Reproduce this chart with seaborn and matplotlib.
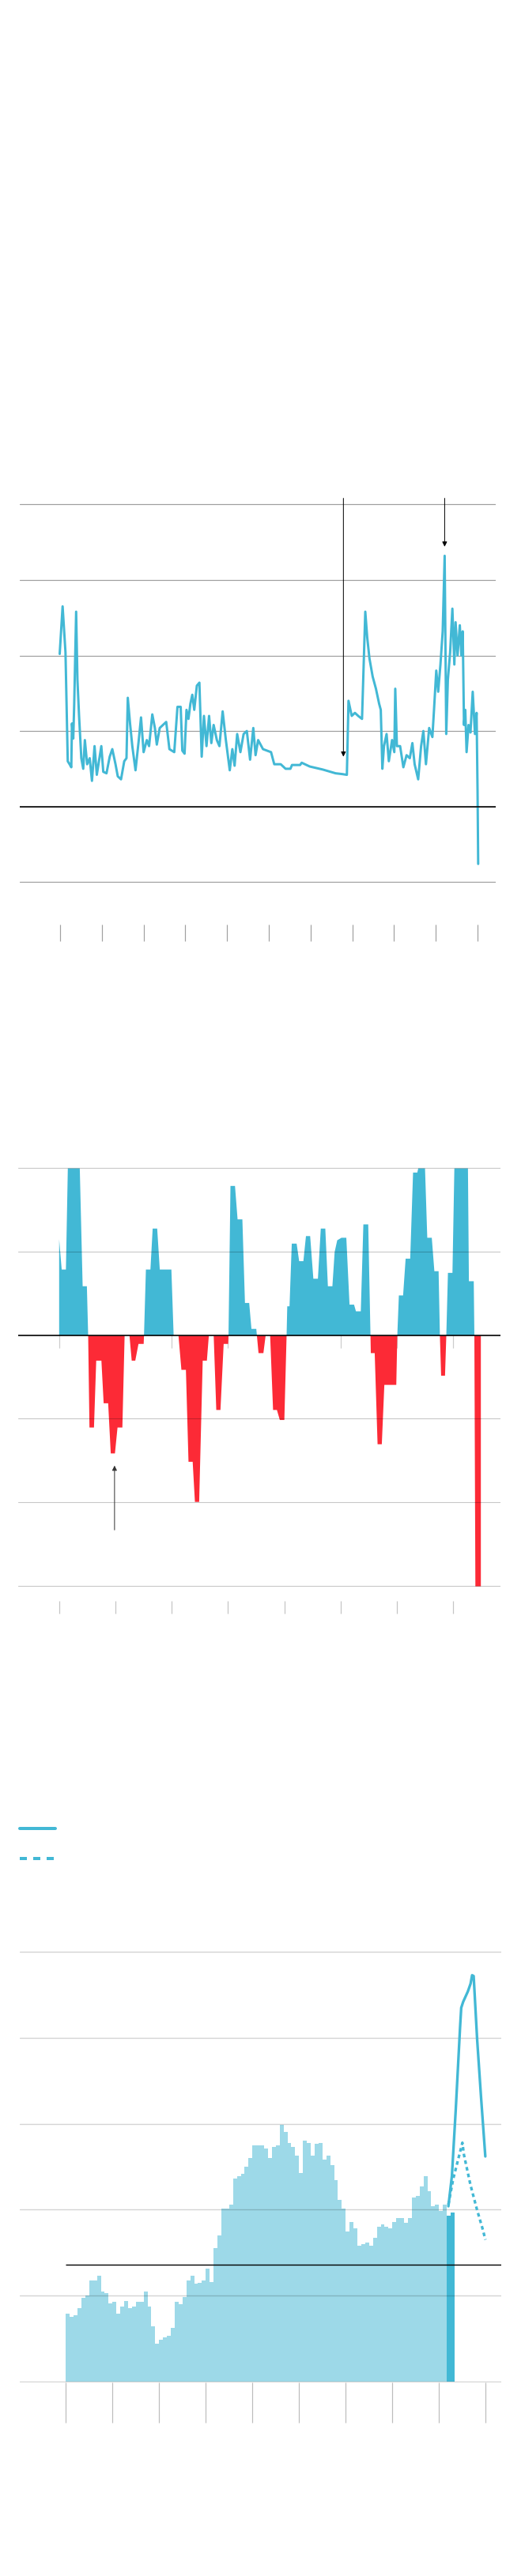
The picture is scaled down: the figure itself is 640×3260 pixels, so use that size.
import numpy as np
import matplotlib
matplotlib.use("Agg")
import matplotlib.pyplot as plt
from matplotlib.lines import Line2D
import seaborn as sns

# ---------------- data ----------------
# panel 1: line series (x in years from first tick, value in grid units)
x1 = [-0.008, 0.062, 0.131, 0.185, 0.240, 0.270, 0.286, 0.317, 0.340, 0.386,
      0.417, 0.456, 0.510, 0.556, 0.595, 0.649, 0.711, 0.765, 0.827, 0.881,
      0.989, 1.036, 1.113, 1.190, 1.252, 1.329, 1.383, 1.461, 1.538, 1.592,
      1.623, 1.677, 1.731, 1.808, 1.886, 1.940, 2.002, 2.079, 2.133, 2.210,
      2.272, 2.318, 2.388, 2.465, 2.543, 2.620, 2.736, 2.813, 2.890, 2.929,
      2.983, 3.029, 3.076, 3.122, 3.168, 3.215, 3.277, 3.338, 3.393, 3.447,
      3.508, 3.570, 3.624, 3.679, 3.756, 3.818, 3.895, 3.972, 4.065, 4.127,
      4.181, 4.243, 4.320, 4.397, 4.474, 4.552, 4.629, 4.683, 4.745, 4.861,
      5.054, 5.131, 5.286, 5.402, 5.518, 5.556, 5.750, 5.788, 5.981, 6.291,
      6.600, 6.754, 6.870, 6.909, 6.986, 7.063, 7.141, 7.233, 7.311, 7.357,
      7.411, 7.488, 7.566, 7.643, 7.682, 7.720, 7.759, 7.821, 7.875, 7.952,
      8.006, 8.029, 8.068, 8.145, 8.223, 8.300, 8.377, 8.439, 8.493, 8.578,
      8.648, 8.702, 8.764, 8.841, 8.918, 8.957, 9.011, 9.057, 9.111, 9.165,
      9.212, 9.250, 9.289, 9.343, 9.397, 9.444, 9.474, 9.521, 9.575, 9.613,
      9.645, 9.675, 9.706, 9.737, 9.784, 9.830, 9.884, 9.938, 9.977, 10.000,
      10.015]
v1 = [2.02, 2.65, 2.04, 0.60, 0.55, 0.52, 1.10, 0.90, 1.36, 2.58,
      1.68, 1.20, 0.64, 0.50, 0.88, 0.56, 0.64, 0.34, 0.80, 0.42,
      0.80, 0.46, 0.44, 0.66, 0.76, 0.56, 0.40, 0.36, 0.60, 0.64,
      1.44, 1.10, 0.80, 0.48, 0.88, 1.18, 0.72, 0.88, 0.80, 1.22,
      1.04, 0.82, 1.04, 1.08, 1.12, 0.76, 0.72, 1.32, 1.32, 0.74,
      0.70, 1.28, 1.16, 1.36, 1.48, 1.28, 1.60, 1.64, 0.66, 1.20,
      0.80, 1.20, 0.84, 1.08, 0.88, 0.80, 1.26, 0.88, 0.48, 0.76,
      0.54, 0.96, 0.72, 0.96, 1.00, 0.62, 1.04, 0.68, 0.88, 0.76,
      0.72, 0.56, 0.56, 0.50, 0.50, 0.55, 0.55, 0.58, 0.53, 0.49,
      0.44, 0.43, 0.42, 1.40, 1.20, 1.24, 1.20, 1.16, 2.58, 2.24,
      1.96, 1.72, 1.56, 1.36, 1.28, 0.50, 0.80, 0.96, 0.60, 0.88,
      0.72, 1.56, 0.80, 0.80, 0.52, 0.68, 0.64, 0.84, 0.56, 0.36,
      0.80, 1.00, 0.56, 1.04, 0.92, 1.28, 1.80, 1.52, 1.88, 2.32,
      3.32, 0.96, 1.68, 2.04, 2.62, 1.88, 2.44, 2.00, 2.40, 2.00,
      2.32, 1.08, 1.28, 0.72, 1.08, 0.98, 1.52, 0.96, 1.24, 0.20,
      -0.76]
arrow1_x = [6.787, 9.212]
arrow1_tip = [0.66, 3.44]

# panel 2: positive / negative area (x in years, value in grid units)
x2 = [-0.005, -0.005, 0.040, 0.115, 0.149, 0.361, 0.412, 0.487, 0.510, 0.533,
      0.613, 0.653, 0.745, 0.785, 0.865, 0.911, 0.985, 1.031, 1.117, 1.157,
      1.243, 1.283, 1.346, 1.403, 1.495, 1.501, 1.535, 1.615, 1.655, 1.735,
      1.781, 1.987, 2.027, 2.113, 2.165, 2.245, 2.291, 2.365, 2.405, 2.480,
      2.543, 2.617, 2.652, 2.738, 2.784, 2.858, 2.915, 2.995, 3.001, 3.036,
      3.116, 3.162, 3.247, 3.293, 3.368, 3.408, 3.494, 3.505, 3.534, 3.620,
      3.660, 3.740, 3.792, 3.860, 3.912, 3.992, 4.032, 4.044, 4.084, 4.124,
      4.210, 4.255, 4.330, 4.376, 4.450, 4.507, 4.588, 4.639, 4.719, 4.765,
      4.845, 4.885, 4.931, 5.006, 5.092, 5.149, 5.229, 5.263, 5.349, 5.395,
      5.481, 5.521, 5.527, 5.596, 5.647, 5.722, 5.767, 5.979, 5.997, 6.025,
      6.100, 6.145, 6.226, 6.277, 6.352, 6.369, 6.489, 6.529, 6.609, 6.655,
      6.730, 6.753, 6.775, 6.844, 6.867, 6.896, 6.976, 7.010, 7.251, 7.268,
      7.354, 7.365, 7.383, 7.480, 7.480]
v2 = [0.00, 1.15, 0.79, 0.79, 2.00, 2.00, 0.59, 0.59, 0.00, -1.10,
      -1.10, -0.30, -0.30, -0.81, -0.81, -1.41, -1.41, -1.10, -1.10, 0.00,
      0.00, -0.30, -0.30, -0.10, -0.10, 0.00, 0.79, 0.79, 1.28, 1.28,
      0.79, 0.79, 0.00, 0.00, -0.41, -0.41, -1.51, -1.51, -1.99, -1.99,
      -0.30, -0.30, 0.00, 0.00, -0.89, -0.89, -0.10, -0.10, 0.00, 1.79,
      1.79, 1.39, 1.39, 0.39, 0.39, 0.08, 0.08, 0.00, -0.21, -0.21,
      0.00, 0.00, -0.89, -0.89, -1.01, -1.01, 0.00, 0.35, 0.35, 1.10,
      1.10, 0.89, 0.89, 1.19, 1.19, 0.68, 0.68, 1.28, 1.28, 0.59,
      0.59, 1.00, 1.14, 1.17, 1.17, 0.37, 0.37, 0.29, 0.29, 1.33,
      1.33, 0.00, -0.21, -0.21, -1.30, -1.30, -0.59, -0.59, 0.00, 0.48,
      0.48, 0.92, 0.92, 1.95, 1.95, 2.00, 2.00, 1.17, 1.17, 0.77,
      0.77, 0.00, -0.48, -0.48, 0.00, 0.75, 0.75, 2.00, 2.00, 0.65,
      0.65, 0.00, -3.00, -3.00, 0.00]
arrow2_x = 0.985
arrow2_tip = -1.56
arrow2_tail = -2.33

# panel 3: monthly bars, latest months, projections (value in grid units)
bars3 = [0.79, 0.75, 0.77, 0.85, 0.97, 1.00, 1.18, 1.18, 1.23, 1.05,
         1.03, 0.91, 0.93, 0.79, 0.87, 0.94, 0.85, 0.87, 0.93, 0.93,
         1.05, 0.87, 0.64, 0.44, 0.49, 0.51, 0.53, 0.62, 0.93, 0.90,
         0.98, 1.18, 1.23, 1.14, 1.15, 1.18, 1.31, 1.16, 1.55, 1.70,
         2.01, 2.01, 2.06, 2.36, 2.39, 2.42, 2.50, 2.60, 2.75, 2.75,
         2.75, 2.71, 2.60, 2.73, 2.75, 2.99, 2.91, 2.78, 2.73, 2.63,
         2.43, 2.80, 2.78, 2.63, 2.77, 2.78, 2.58, 2.63, 2.52, 2.34,
         2.11, 2.01, 1.75, 1.86, 1.78, 1.58, 1.60, 1.62, 1.58, 1.67,
         1.80, 1.83, 1.80, 1.78, 1.86, 1.90, 1.90, 1.85, 1.90, 2.14,
         2.16, 2.27, 2.39, 2.22, 2.04, 2.06, 1.99, 2.06]
latest3 = [1.93, 1.97]
solid_x = [98.4, 99.3, 100.3, 101.4, 101.7, 102.2, 103.4, 104.1, 104.5, 104.9,
           105.8, 106.8, 107.9]
solid_v = [2.04, 2.39, 3.17, 4.12, 4.35, 4.42, 4.54, 4.63, 4.73, 4.72,
           3.98, 3.31, 2.62]
dot_x = [98.4, 99.65, 101.0, 102.0, 102.4, 104.07, 105.76, 107.12, 107.93]
dot_v = [2.06, 2.36, 2.60, 2.78, 2.64, 2.29, 2.00, 1.79, 1.65]
avg3 = 1.36

# ---------------- style ----------------
BLUE = "#42b8d5"
RED = "#fc2a36"
LIGHT = "#9dd9e8"
PX = 0.72  # one pixel in points at dpi 100

sns.set_theme(style="white")
plt.rcParams["font.family"] = ["DejaVu Sans"]

fig = plt.figure(figsize=(6.4, 32.6), dpi=100)
fig.patch.set_facecolor("white")


def rect(left, top, right, bottom):
    return [left / 640, 1 - bottom / 3260, (right - left) / 640, (bottom - top) / 3260]


def clean(ax, tick_len, tick_color):
    for s in ax.spines.values():
        s.set_visible(False)
    ax.tick_params(axis="x", bottom=True, direction="out", length=tick_len * PX,
                   width=1.2 * PX, color=tick_color, labelbottom=False)
    ax.tick_params(axis="y", left=False, labelleft=False)
    ax.set_facecolor("none")


# ---------------- panel 1 ----------------
ax1 = fig.add_axes(rect(24.9, 630.6, 627, 1170))
ax1.set_axisbelow(False)
sns.lineplot(x=x1, y=v1, ax=ax1, color=BLUE, linewidth=3.0 * PX,
             estimator=None, sort=False, zorder=3)
ax1.axhline(0, color="black", lw=1.6 * PX, zorder=3)
ax1.set_xlim(-0.966, 10.435)
ax1.set_ylim(-1.562, 4.081)
ax1.set_xticks(range(11))
ax1.set_yticks([-1, 0, 1, 2, 3, 4])
ax1.grid(axis="y", color="black", alpha=0.38, lw=1.2 * PX)
ax1.grid(axis="x", visible=False)
clean(ax1, 21, "#a0a0a0")
for ax_x, tip in zip(arrow1_x, arrow1_tip):
    ax1.annotate("", xy=(ax_x, tip), xytext=(ax_x, 4.081),
                 arrowprops=dict(arrowstyle="-|>", color="black", lw=1.0 * PX,
                                 mutation_scale=9, shrinkA=0, shrinkB=0), zorder=4)

# ---------------- panel 2 ----------------
ax2 = fig.add_axes(rect(23.3, 1476, 632.7, 2026))
ax2.set_axisbelow(False)
xa = np.array(x2)
va = np.array(v2)
ax2.vlines(range(8), -0.156, 0, color="#cccccc", lw=1.2 * PX, zorder=0.5)
ax2.fill_between(xa, np.clip(va, 0, None), 0, color=BLUE, lw=0, zorder=1)
ax2.fill_between(xa, np.clip(va, None, 0), 0, color=RED, lw=0, zorder=1)
ax2.axhline(0, color="black", lw=1.6 * PX, zorder=3)
ax2.set_xlim(-0.721, 7.831)
ax2.set_ylim(-3.179, 2.02)
ax2.set_xticks(range(8))
ax2.set_yticks([-3, -2, -1, 0, 1, 2])
ax2.grid(axis="y", color="black", alpha=0.22, lw=1.1 * PX)
ax2.grid(axis="x", visible=False)
clean(ax2, 16, "#c4c4c4")
ax2.annotate("", xy=(arrow2_x, arrow2_tip), xytext=(arrow2_x, arrow2_tail),
             arrowprops=dict(arrowstyle="-|>", color="#333333", lw=1.0 * PX,
                             mutation_scale=9, shrinkA=0, shrinkB=0), zorder=4)

# ---------------- panel 3 ----------------
ax3 = fig.add_axes(rect(24.9, 2465, 634, 3015))
ax3.set_axisbelow(False)
n = len(bars3)
ax3.stairs(bars3, np.arange(n + 1), fill=True, color=LIGHT, lw=0, zorder=1)
ax3.stairs(latest3, np.arange(n, n + len(latest3) + 1), fill=True, color=BLUE, lw=0, zorder=1)
sns.lineplot(x=dot_x, y=dot_v, ax=ax3, color=BLUE, linewidth=3.3 * PX,
             estimator=None, sort=False, zorder=3, dashes=False)
ax3.lines[-1].set_dashes((1.4, 1.2))
ax3.lines[-1].set_dash_capstyle("butt")
sns.lineplot(x=solid_x, y=solid_v, ax=ax3, color=BLUE, linewidth=3.3 * PX,
             estimator=None, sort=False, zorder=3)
ax3.lines[-1].set_solid_capstyle("round")
ax3.hlines(avg3, 0, 112.0, color="black", lw=1.4 * PX, zorder=3)
ax3.set_xlim(-11.88, 112.0)
ax3.set_ylim(-0.011, 5.049)
ax3.set_xticks(np.arange(0, 109, 12))
ax3.set_yticks([0, 1, 2, 3, 4, 5])
ax3.grid(axis="y", color="black", alpha=0.17, lw=1.4 * PX)
ax3.grid(axis="x", visible=False)
clean(ax3, 51, "#bcbcbc")

# legend (labels left blank as in the reference)
h_solid = Line2D([], [], color=BLUE, lw=4 * PX, solid_capstyle="round")
h_dash = Line2D([], [], color=BLUE, lw=4 * PX, dashes=(2.25, 2.0), dash_capstyle="butt")
fig.legend(handles=[h_solid], labels=[" "], loc="center left",
           bbox_to_anchor=(25.3 / 640, 1 - 2315 / 3260), frameon=False,
           borderpad=0, borderaxespad=0, handlelength=3.2, fontsize=10,
           handletextpad=0.2)
fig.legend(handles=[h_dash], labels=[" "], loc="center left",
           bbox_to_anchor=(24.9 / 640, 1 - 2353 / 3260), frameon=False,
           borderpad=0, borderaxespad=0, handlelength=3.1, fontsize=10,
           handletextpad=0.2)

fig.savefig("out.png", dpi=100, facecolor="white")
